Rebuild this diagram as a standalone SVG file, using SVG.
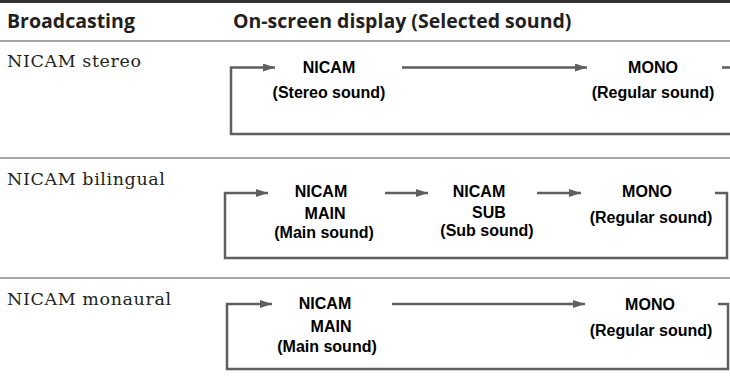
<svg xmlns="http://www.w3.org/2000/svg" width="730" height="392" viewBox="0 0 730 392">
<style>
.hdr{font-family:"Open Sans","Liberation Sans",sans-serif;font-weight:bold;font-size:19.5px;fill:#231f20}
.lbl{font-family:"DejaVu Serif","Liberation Serif",serif;font-size:17.5px;fill:#231f20;letter-spacing:0.6px}
.t{font-family:"Liberation Sans",Arial,sans-serif;font-weight:bold;font-size:16px;fill:#000;text-anchor:middle}
.rule{stroke:#8a8a8a;stroke-width:1.5;fill:none}
.c{stroke:#5f5f5f;stroke-width:2.5;fill:none}
</style>
<defs>
<marker id="ah" viewBox="0 0 12 8" refX="12" refY="4" markerWidth="12" markerHeight="8" markerUnits="userSpaceOnUse" orient="auto">
<path d="M0,0 L12,4 L0,8 Z" fill="#5f5f5f"/>
</marker>
</defs>
<rect width="730" height="392" fill="#fff"/>
<g id="table">
<line x1="0" y1="1.5" x2="730" y2="1.5" stroke="#333" stroke-width="3"/>
<line class="rule" x1="0" y1="41" x2="730" y2="41"/>
<line class="rule" x1="0" y1="158" x2="730" y2="158"/>
<line class="rule" x1="0" y1="278" x2="730" y2="278"/>
<text class="hdr" x="7" y="28">Broadcasting</text>
<text class="hdr" x="233" y="28">On-screen display (Selected sound)</text>
<text class="lbl" x="7" y="67">NICAM stereo</text>
<text class="lbl" x="7" y="185">NICAM bilingual</text>
<text class="lbl" x="7" y="305">NICAM monaural</text>
</g>
<g id="connectors">
<path class="c" d="M722,67.5 H735 V134 H231 V67.5 H275" marker-end="url(#ah)"/>
<path class="c" d="M402,67.5 H587" marker-end="url(#ah)"/>
<path class="c" d="M715,193 H727 V258 H225 V193 H268" marker-end="url(#ah)"/>
<path class="c" d="M385,193 H428" marker-end="url(#ah)"/>
<path class="c" d="M537,193 H581" marker-end="url(#ah)"/>
<path class="c" d="M718,304 H728 V369 H227 V304 H272" marker-end="url(#ah)"/>
<path class="c" d="M392,304 H585" marker-end="url(#ah)"/>
</g>
<g id="r1-nicam"><text class="t" x="329" y="73">NICAM</text><text class="t" x="329" y="98">(Stereo sound)</text></g>
<g id="r1-mono"><text class="t" x="653" y="73">MONO</text><text class="t" x="653" y="98">(Regular sound)</text></g>
<g id="r2-main"><text class="t" x="321" y="197">NICAM</text><text class="t" x="325" y="219">MAIN</text><text class="t" x="324" y="238">(Main sound)</text></g>
<g id="r2-sub"><text class="t" x="479" y="197">NICAM</text><text class="t" x="489" y="218">SUB</text><text class="t" x="487" y="236">(Sub sound)</text></g>
<g id="r2-mono"><text class="t" x="647" y="197">MONO</text><text class="t" x="651" y="223">(Regular sound)</text></g>
<g id="r3-main"><text class="t" x="325" y="309">NICAM</text><text class="t" x="331" y="332">MAIN</text><text class="t" x="327" y="352">(Main sound)</text></g>
<g id="r3-mono"><text class="t" x="650" y="310">MONO</text><text class="t" x="651" y="336">(Regular sound)</text></g>
</svg>
